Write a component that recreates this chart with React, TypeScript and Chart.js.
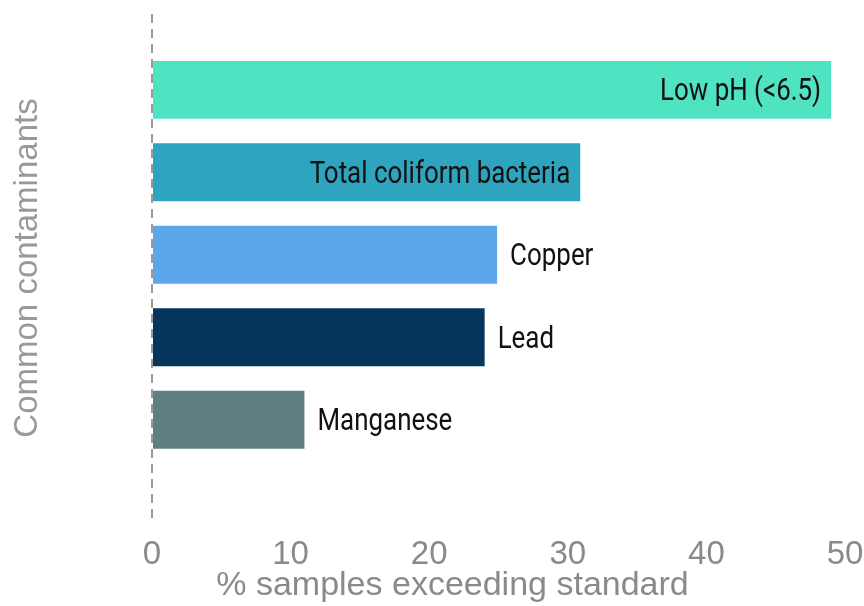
import { useEffect, useRef } from "react";
import { Chart, registerables } from "chart.js";

Chart.register(...registerables);

const categories = ["Low pH (<6.5)", "Total coliform bacteria", "Copper", "Lead", "Manganese"];
const values = [49.0, 30.9, 24.9, 24.0, 11.0];
const barColors = ["#50E3C2", "#2FA4BF", "#5CA7EB", "#06355E", "#607F82"];
const xTickValues = [0, 10, 20, 30, 40, 50];
const xTitle = "% samples exceeding standard";
const yTitle = "Common contaminants";

const labelFont = '32px Roboto, "Liberation Sans", sans-serif';
const labelStretch = 0.81;
const axisFamily = '"Liberation Sans", Arial, sans-serif';

const barLabels = {
  id: "barLabels",
  afterDatasetsDraw(chart: any) {
    const ctx = chart.ctx;
    const meta = chart.getDatasetMeta(0);
    ctx.save();
    ctx.font = labelFont;
    ctx.fillStyle = "#111111";
    ctx.textBaseline = "alphabetic";
    meta.data.forEach((el: any, i: number) => {
      const { x, y } = el.getProps(["x", "y"], true);
      const inside = values[i] >= 30;
      ctx.save();
      ctx.translate(inside ? x - 10 : x + 13, y + 10.5);
      ctx.scale(labelStretch, 1);
      ctx.textAlign = inside ? "right" : "left";
      ctx.fillText(categories[i], 0, 0);
      ctx.restore();
    });
    ctx.restore();
  },
};

const xTitlePlugin = {
  id: "xTitle",
  afterDraw(chart: any) {
    const { ctx, chartArea, height } = chart;
    ctx.save();
    ctx.font = `34px ${axisFamily}`;
    ctx.fillStyle = "#8a8a8a";
    ctx.textAlign = "center";
    ctx.textBaseline = "middle";
    ctx.fillText(xTitle, (chartArea.left + chartArea.right) / 2 - 46, height - 20);
    ctx.restore();
  },
};

export default function App() {
  const ref = useRef<HTMLCanvasElement | null>(null);

  useEffect(() => {
    document.body.style.margin = "0";
    const canvas = ref.current;
    if (!canvas) return;
    const chart = new Chart(canvas, {
      type: "bar",
      data: {
        labels: categories,
        datasets: [
          {
            data: values.map((v, i) => ({ x: v, y: i })) as any,
            backgroundColor: barColors,
            borderWidth: 0,
            categoryPercentage: 1,
            barPercentage: 0.703,
          },
        ],
      },
      options: {
        indexAxis: "y",
        animation: false,
        responsive: false,
        maintainAspectRatio: false,
        layout: { padding: { top: 14, left: 8, right: 0, bottom: 18 } },
        plugins: {
          legend: { display: false },
          tooltip: { enabled: false },
        },
        scales: {
          x: {
            type: "linear",
            min: xTickValues[0],
            max: xTickValues[xTickValues.length - 1],
            z: 1,
            afterBuildTicks: (scale: any) => {
              scale.ticks = xTickValues.map((v) => ({ value: v }));
            },
            afterFit: (scale: any) => {
              scale.paddingRight = 19;
            },
            grid: {
              display: true,
              drawTicks: false,
              lineWidth: 2,
              color: (c: any) => (c.tick && c.tick.value === 0 ? "#9a9a9a" : "rgba(0,0,0,0)"),
            },
            border: { display: false, dash: [9, 6] },
            ticks: {
              color: "#8a8a8a",
              padding: 0,
              font: { family: axisFamily, size: 33, lineHeight: 2.0 },
            },
            title: { display: false },
          },
          y: {
            type: "linear",
            reverse: true,
            offset: false,
            min: -0.92,
            max: 5.24,
            afterBuildTicks: (scale: any) => {
              scale.ticks = categories.map((_, i) => ({ value: i }));
            },
            afterFit: (scale: any) => {
              scale.width = 144;
            },
            grid: { display: false, drawTicks: false },
            border: { display: false },
            ticks: { display: false },
            title: {
              display: true,
              text: yTitle,
              color: "#999999",
              padding: 0,
              font: { family: axisFamily, size: 33, lineHeight: 1.2 },
            },
          },
        },
      },
      plugins: [barLabels, xTitlePlugin],
    });
    return () => chart.destroy();
  }, []);

  return (
    <div style={{ width: 864, height: 606, position: "relative" }}>
      <canvas ref={ref} width={864} height={606} style={{ width: 864, height: 606, display: "block" }} />
    </div>
  );
}
